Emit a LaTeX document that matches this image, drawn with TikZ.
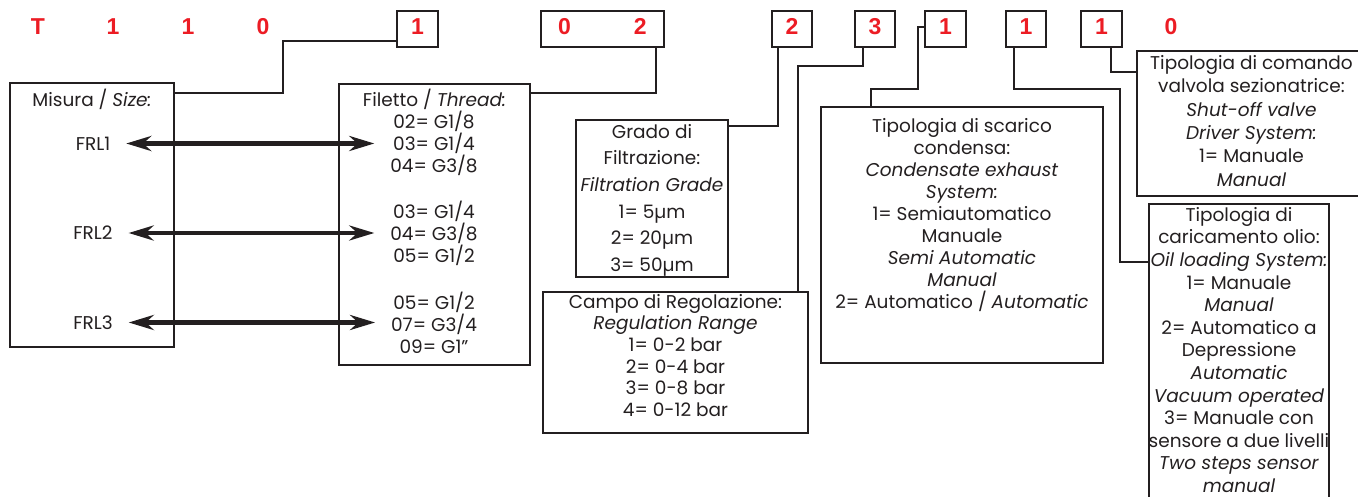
\documentclass[tikz,border=0pt]{standalone}
\usepackage{fontspec}
\setmainfont{Poppins}
\newfontfamily\codefont{Liberation Sans}
\usetikzlibrary{arrows.meta, positioning}

\definecolor{codered}{RGB}{236,28,36}
\definecolor{ink}{RGB}{35,31,32}

\tikzset{
	box/.style={draw=ink, line width=1.8pt, inner sep=0pt, outer sep=0pt},
	codebox/.style={box, minimum width=41pt, minimum height=36pt, text depth=5pt,
		text=codered, font=\codefont\bfseries\fontsize{23}{23}\selectfont},
	digit/.style={inner sep=0pt, text=codered, font=\codefont\bfseries\fontsize{23}{23}\selectfont},
	txt/.style={inner sep=0pt, align=center, text=ink, font=\fontsize{18.5}{22}\selectfont},
	sizelbl/.style={txt, outer sep=16pt},
	wire/.style={draw=ink, line width=1.8pt},
	dblarrow/.style={draw=ink, line width=4.5pt,
		{Stealth[length=25pt,width=15pt]}-{Stealth[length=25pt,width=15pt]}},
}

\begin{document}
\begin{tikzpicture}[x=1pt, y=-1pt]
	% cornice con le proporzioni del riferimento
	\useasboundingbox (0,0) rectangle (1358,497);
	\clip (0,0) rectangle (1358,497);

	% codice d'ordine
	\node[digit] (dT) at (38,26.5) {T};
	\node[digit] (dA) at (113,26.5) {1};
	\node[digit] (dB) at (188,26.5) {1};
	\node[digit] (dC) at (263,26.5) {0};
	\node[codebox] (bsize) at (417.5,29) {1};
	\node[codebox, minimum width=123pt] (bthread) at (602.5,29) {0\hspace{63pt}2};
	\node[codebox, minimum width=40pt] (bfilter) at (792,29) {2};
	\node[codebox, minimum width=40pt] (brange) at (875,29) {3};
	\node[codebox] (bdrain) at (945.5,29) {1};
	\node[codebox, minimum width=40pt] (boil) at (1026,29) {1};
	\node[codebox] (bvalve) at (1101.5,29) {1};
	\node[digit] (dZ) at (1171,26.5) {0};

	% riquadri
	\node[box, minimum width=164pt, minimum height=264pt] (size) at (92,215) {};
	\node[box, minimum width=191pt, minimum height=281pt] (thread) at (434.5,224.5) {};
	\node[box, minimum width=152pt, minimum height=157pt] (filter) at (652,198.5) {};
	\node[box, minimum width=265pt, minimum height=141pt] (range) at (675.5,362.5) {};
	\node[box, minimum width=282pt, minimum height=256pt] (drain) at (962,235) {};
	\node[box, minimum width=229pt, minimum height=145pt] (valve) at (1251.5,123.5) {};
	\node[box, minimum width=180pt, minimum height=301pt] (oil) at (1239,354.5) {};

	% misura e filetto
	\node[txt, below=6pt of size.north] (sizeT) {Misura / \textit{Size:}};
	\node[sizelbl] (frl1) at (93,143.5) {FRL1};
	\node[sizelbl] (frl2) at (93,233) {FRL2};
	\node[sizelbl] (frl3) at (93,322.5) {FRL3};
	\node[txt, below=5pt of thread.north] (threadT) {Filetto / \textit{Thread:}};
	\node[sizelbl] (thr1) at (434,143.5) {02= G1/8\\03= G1/4\\04= G3/8};
	\node[sizelbl] (thr2) at (434,233) {03= G1/4\\04= G3/8\\05= G1/2};
	\node[sizelbl] (thr3) at (434,322.5) {05= G1/2\\07= G3/4\\09= G1”};

	\draw[dblarrow] (frl1.east) -- (frl1.east -| thr1.west);
	\draw[dblarrow] (frl2.east) -- (frl2.east -| thr2.west);
	\draw[dblarrow] (frl3.east) -- (frl3.east -| thr3.west);

	% testi dei riquadri
	\node[txt, font=\fontsize{18.5}{26.6}\selectfont, below=4pt of filter.north] (filterT)
		{Grado di\\Filtrazione:\\\textit{Filtration Grade}\\1= 5µm\\2= 20µm\\3= 50µm};
	\node[txt, font=\fontsize{18.5}{21.6}\selectfont, below=2pt of range.north] (rangeT)
		{Campo di Regolazione:\\\textit{Regulation Range}\\1= 0-2 bar\\2= 0-4 bar\\3= 0-8 bar\\4= 0-12 bar};
	\node[txt, below=11pt of drain.north] (drainT)
		{Tipologia di scarico\\condensa:\\\textit{Condensate exhaust}\\\textit{System:}\\1= Semiautomatico\\Manuale\\\textit{Semi Automatic}\\\textit{Manual}\\2= Automatico / \textit{Automatic}};
	\node[txt, font=\fontsize{18.5}{23.4}\selectfont, below=4pt of valve.north] (valveT)
		{Tipologia di comando\\valvola sezionatrice:\\\textit{Shut-off valve}\\\textit{Driver System:}\\1= Manuale\\\textit{Manual}};
	\node[txt, font=\fontsize{18.5}{22.6}\selectfont, below=3pt of oil.north] (oilT)
		{Tipologia di\\caricamento olio:\\\textit{Oil loading System:}\\1= Manuale\\\textit{Manual}\\2= Automatico a\\Depressione\\\textit{Automatic}\\\textit{Vacuum operated}\\3= Manuale con\\sensore a due livelli\\\textit{Two steps sensor}\\\textit{manual}};

	% collegamenti
	\draw[wire] ([yshift=-10pt]size.north east) -| (283,41) -- ([yshift=6pt]bsize.south west);
	\draw[wire] ([yshift=-9pt]thread.north east) -| ([xshift=-8pt]bthread.south east);
	\draw[wire] ([yshift=-6pt]filter.north east) -| ([xshift=6pt]bfilter.south west);
	\draw[wire] ([xshift=-10pt]range.north east) |- (863,66) -- ([xshift=8pt]brange.south west);
	\draw[wire] ([xshift=50pt]drain.north west) |- (918,89) |- ([yshift=2pt]bdrain.west);
	\draw[wire] ([yshift=-58pt]oil.north west) -| (1120,89) -| ([xshift=8pt]boil.south west);
	\draw[wire] ([yshift=-21pt]valve.north west) -| ([xshift=9.5pt]bvalve.south);
\end{tikzpicture}
\end{document}
